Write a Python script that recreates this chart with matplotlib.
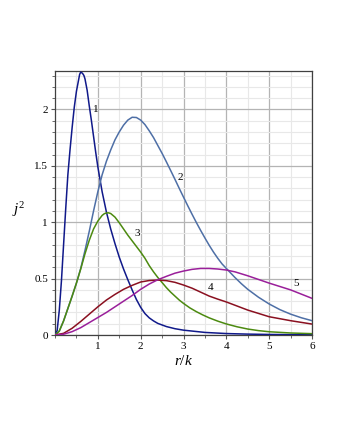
'''
j^2 against r/k for five curves, drawn the way Maple draws them.
'''

import matplotlib
matplotlib.use('Agg')
from matplotlib import pyplot as plt
from matplotlib.ticker import MultipleLocator

plt.rcParams['font.family'] = ['Liberation Serif', 'DejaVu Serif']
plt.rcParams['mathtext.fontset'] = 'custom'
plt.rcParams['mathtext.rm'] = 'Liberation Serif'
plt.rcParams['mathtext.it'] = 'Liberation Serif:italic'

# Values
r1 = [0, 0.05, 0.1, 0.15, 0.2, 0.25, 0.3, 0.35, 0.4, 0.45, 0.5, 0.55,
      0.575, 0.6, 0.625, 0.65, 0.675, 0.7, 0.75, 0.8, 0.85, 0.9, 0.95, 1.0,
      1.1, 1.2, 1.3, 1.4, 1.5, 1.6, 1.7, 1.8, 1.9, 2.0, 2.1, 2.2, 2.3, 2.4,
      2.6, 2.8, 3.0, 3.5, 4.0, 4.5, 5.0, 6.0]
j1 = [0, 0.04, 0.22, 0.48, 0.80, 1.12, 1.42, 1.64, 1.84, 2.02, 2.16, 2.26,
      2.31, 2.33, 2.325, 2.315, 2.30, 2.27, 2.17, 2.03, 1.90, 1.76, 1.62,
      1.49, 1.27, 1.09, 0.94, 0.81, 0.69, 0.585, 0.49, 0.40, 0.315, 0.245,
      0.19, 0.152, 0.125, 0.103, 0.075, 0.056, 0.043, 0.023, 0.013, 0.008,
      0.005, 0.002]

r2 = [0, 0.1, 0.2, 0.3, 0.4, 0.5, 0.6, 0.7, 0.8, 0.9, 1.0, 1.1, 1.2, 1.3,
      1.4, 1.5, 1.6, 1.7, 1.8, 1.9, 2.0, 2.1, 2.2, 2.3, 2.4, 2.5, 2.6, 2.7,
      2.8, 2.9, 3.0, 3.1, 3.2, 3.3, 3.4, 3.5, 3.6, 3.7, 3.8, 3.9, 4.0, 4.1,
      4.2, 4.35, 4.5, 4.75, 5.0, 5.25, 5.5, 5.75, 6.0]
j2 = [0, 0.035, 0.125, 0.235, 0.345, 0.46, 0.59, 0.75, 0.92, 1.10, 1.27,
      1.42, 1.54, 1.64, 1.73, 1.80, 1.86, 1.905, 1.93, 1.928, 1.905, 1.865,
      1.81, 1.75, 1.68, 1.61, 1.535, 1.458, 1.38, 1.30, 1.222, 1.145, 1.07,
      0.997, 0.927, 0.86, 0.795, 0.735, 0.68, 0.63, 0.59, 0.55, 0.51, 0.455,
      0.405, 0.335, 0.275, 0.225, 0.185, 0.153, 0.127]

r3 = [0, 0.1, 0.2, 0.3, 0.4, 0.5, 0.6, 0.7, 0.8, 0.9, 1.0, 1.1, 1.15, 1.2,
      1.25, 1.3, 1.4, 1.5, 1.6, 1.7, 1.8, 1.9, 2.0, 2.1, 2.2, 2.3, 2.4, 2.5,
      2.6, 2.7, 2.8, 2.9, 3.0, 3.15, 3.3, 3.45, 3.6, 3.8, 4.0, 4.25, 4.5,
      4.75, 5.0, 5.5, 6.0]
j3 = [0, 0.035, 0.125, 0.235, 0.345, 0.46, 0.585, 0.72, 0.84, 0.94, 1.01,
      1.06, 1.075, 1.082, 1.083, 1.077, 1.045, 0.995, 0.94, 0.885, 0.835,
      0.785, 0.735, 0.68, 0.615, 0.56, 0.51, 0.465, 0.42, 0.38, 0.345, 0.31,
      0.28, 0.24, 0.207, 0.178, 0.152, 0.123, 0.098, 0.073, 0.053, 0.039,
      0.029, 0.018, 0.012]

r4 = [0, 0.2, 0.4, 0.6, 0.8, 1.0, 1.2, 1.4, 1.6, 1.8, 2.0, 2.2, 2.4, 2.6,
      2.8, 3.0, 3.2, 3.4, 3.6, 3.8, 4.0, 4.5, 5.0, 5.5, 6.0]
j4 = [0, 0.015, 0.06, 0.12, 0.185, 0.25, 0.31, 0.36, 0.405, 0.44, 0.47,
      0.483, 0.487, 0.482, 0.467, 0.443, 0.415, 0.38, 0.345, 0.318, 0.293,
      0.221, 0.162, 0.127, 0.097]

r5 = [0, 0.2, 0.4, 0.6, 0.8, 1.0, 1.2, 1.4, 1.6, 1.8, 2.0, 2.2, 2.4, 2.6,
      2.8, 3.0, 3.2, 3.4, 3.6, 3.8, 4.0, 4.2, 4.5, 5.0, 5.5, 6.0]
j5 = [0, 0.007, 0.03, 0.065, 0.11, 0.155, 0.20, 0.25, 0.30, 0.35, 0.405,
      0.452, 0.49, 0.52, 0.548, 0.567, 0.582, 0.59, 0.59, 0.585, 0.576,
      0.56, 0.525, 0.46, 0.40, 0.325]

curve_labels = ['1', '2', '3', '4', '5']
label_r = [0.95, 2.92, 1.93, 3.62, 5.62]
label_j = [2.0, 1.40, 0.90, 0.42, 0.458]
colors = ['#10198a', '#4e6fa6', '#4c8a10', '#8a1020', '#9a1f9a']


if __name__ == '__main__':
    fig = plt.figure(figsize=(3.4, 4.4), dpi=100)
    ax = fig.add_axes([0.1618, 0.2386, 0.7559, 0.6])

    curves = [(r1, j1), (r2, j2), (r3, j3), (r4, j4), (r5, j5)]
    for (rs, js), c in zip(curves, colors):
        ax.plot(rs, js, color=c, lw=1.1, zorder=3)

    for name, x, y in zip(curve_labels, label_r, label_j):
        ax.text(x, y, name, fontsize=8, ha='center', va='center', zorder=4)

    ax.set_xlim(0, 6)
    ax.set_ylim(0, 2.34)
    ax.set_xticks([1, 2, 3, 4, 5, 6])
    ax.set_yticks([0, 0.5, 1, 1.5, 2])
    ax.set_yticklabels(['0', '0.5', '1', '1.5', '2'])
    ax.xaxis.set_minor_locator(MultipleLocator(0.5))
    ax.yaxis.set_minor_locator(MultipleLocator(0.1))

    ax.grid(which='major', color='#b4b4b4', lw=0.9, zorder=1)
    ax.grid(which='minor', color='#e8e8e8', lw=0.8, zorder=0)
    ax.set_axisbelow(True)

    ax.tick_params(which='major', direction='out', length=3, width=0.8,
                   labelsize=8, pad=2, color='#555555')
    ax.tick_params(which='minor', direction='out', length=2, width=0.6,
                   color='#555555')
    for sp in ax.spines.values():
        sp.set_color('#404040')
        sp.set_linewidth(0.9)

    ax.set_xlabel('$r/k$', fontsize=11, labelpad=2)
    ax.set_ylabel('$j^2$', fontsize=11, rotation=0)
    ax.yaxis.set_label_coords(-0.14, 0.44)

    plt.savefig('out.png', dpi=100)
